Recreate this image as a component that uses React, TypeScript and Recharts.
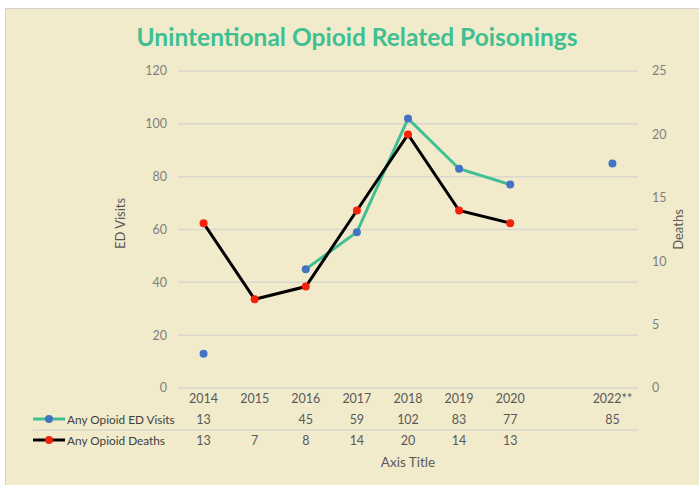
import React from 'react';
import { ComposedChart, Line, XAxis, YAxis, CartesianGrid } from 'recharts';

const categories = ['2014', '2015', '2016', '2017', '2018', '2019', '2020', '', '2022**'];
const edVisits: (number | null)[] = [13, null, 45, 59, 102, 83, 77, null, 85];
const deaths: (number | null)[] = [13, 7, 8, 14, 20, 14, 13, null, null];
const leftTicks = [0, 20, 40, 60, 80, 100, 120];
const rightTicks = [0, 5, 10, 15, 20, 25];
const seriesNames = ['Any Opioid ED Visits', 'Any Opioid Deaths'];

const data = categories.map((c, i) => ({ year: c, ed: edVisits[i], deaths: deaths[i] }));

const FONT = 'Lato, "Open Sans", sans-serif';
const GREEN = '#3FBF92';
const BLUE = '#4472C4';
const RED = '#F4220B';
const GRID = '#DAD7CE';
const TXT = '#595959';

const LegendKey = ({ x, y, line, dot }: any) => (
  <g>
    <line x1={x} x2={x + 32} y1={y} y2={y} stroke={line} strokeWidth={3} />
    <circle cx={x + 16} cy={y} r={4} fill={dot} />
  </g>
);

const TableTick = (props: any) => {
  const { x, y, payload, index } = props;
  const ed = edVisits[index];
  const de = deaths[index];
  return (
    <g fontFamily={FONT} fontSize={12.5} fill={TXT}>
      <text x={x} y={y + 10} textAnchor="middle" dominantBaseline="central" fill={TXT}>
        {payload.value}
      </text>
      {ed != null && (
        <text x={x} y={y + 31} textAnchor="middle" dominantBaseline="central" fill={TXT}>
          {ed}
        </text>
      )}
      {de != null && (
        <text x={x} y={y + 52} textAnchor="middle" dominantBaseline="central" fill={TXT}>
          {de}
        </text>
      )}
      {index === 0 && (
        <g>
          <line x1={33} x2={638} y1={y + 42} y2={y + 42} stroke={GRID} strokeWidth={1.5} />
          <LegendKey x={33} y={y + 31} line={GREEN} dot={BLUE} />
          <LegendKey x={33} y={y + 52} line="#000000" dot={RED} />
          <text x={67} y={y + 31} dominantBaseline="central" fill="#404040" fontSize={11.8}>{seriesNames[0]}</text>
          <text x={67} y={y + 52} dominantBaseline="central" fill="#404040" fontSize={11.8}>{seriesNames[1]}</text>
        </g>
      )}
    </g>
  );
};

const AxisTitleLabel = ({ viewBox }: any) => (
  <text
    x={viewBox.x + viewBox.width / 2}
    y={viewBox.y + 74}
    textAnchor="middle"
    dominantBaseline="central"
    fontFamily={FONT}
    fontSize={13.5}
    fill={TXT}
  >
    Axis Title
  </text>
);

const LeftLabel = ({ viewBox }: any) => {
  const cx = viewBox.x + viewBox.width / 2;
  const cy = viewBox.y + viewBox.height / 2 - 6;
  return (
    <text x={cx} y={cy} textAnchor="middle" dominantBaseline="central" transform={`rotate(-90 ${cx} ${cy})`}
      fontFamily={FONT} fontSize={13} fill={TXT}>
      ED Visits
    </text>
  );
};

const RightLabel = ({ viewBox }: any) => {
  const cx = viewBox.x + 40;
  const cy = viewBox.y + viewBox.height / 2;
  return (
    <text x={cx} y={cy} textAnchor="middle" dominantBaseline="central" transform={`rotate(-90 ${cx} ${cy})`}
      fontFamily={FONT} fontSize={13} fill={TXT}>
      Deaths
    </text>
  );
};

export default function App() {
  return (
    <div style={{ position: 'absolute', left: 0, top: 0, width: 699, height: 485, background: '#ffffff', overflow: 'hidden' }}>
      <div style={{ position: 'absolute', left: 5, top: 8, right: 0, bottom: 0, background: '#F1EBCC', borderLeft: '1px solid #D2D2D2', borderTop: '1px solid #D2D2D2' }} />
      <div style={{ position: 'absolute', left: 0, top: 21, width: 714, textAlign: 'center', fontFamily: FONT, fontWeight: 700, fontSize: 24.5, color: GREEN, lineHeight: '32px' }}>
        Unintentional Opioid Related Poisonings
      </div>
      <div style={{ position: 'absolute', left: 0, top: 0 }}>
        <ComposedChart width={699} height={485} data={data} margin={{ top: 71, right: 0, left: 62, bottom: 13 }}>
          <CartesianGrid yAxisId="left" vertical={false} stroke={GRID} strokeWidth={1.5} />
          <XAxis
            xAxisId="cat"
            dataKey="year"
            type="category"
            scale="band"
            interval={0}
            height={84}
            axisLine={false}
            tickLine={false}
            tickSize={0}
            tickMargin={0}
            tick={<TableTick />}
            label={<AxisTitleLabel />}
          />
          <YAxis
            yAxisId="left"
            orientation="left"
            width={116}
            domain={[0, 120]}
            ticks={leftTicks}
            axisLine={false}
            tickLine={false}
            tickMargin={5}
            tick={{ fill: '#7F7F7F', fontSize: 12.5, fontFamily: FONT }}
            label={<LeftLabel />}
          />
          <YAxis
            yAxisId="right"
            orientation="right"
            width={61}
            domain={[0, 25]}
            ticks={rightTicks}
            axisLine={false}
            tickLine={false}
            tickMargin={8}
            tick={{ fill: '#7F7F7F', fontSize: 12.5, fontFamily: FONT, textAnchor: 'start' }}
            label={<RightLabel />}
          />
          <Line
            xAxisId="cat"
            yAxisId="left"
            dataKey="ed"
            stroke={GREEN}
            strokeWidth={3}
            dot={{ r: 4, fill: BLUE, stroke: BLUE, strokeWidth: 0 }}
            activeDot={false}
            connectNulls={false}
            isAnimationActive={false}
          />
          <Line
            xAxisId="cat"
            yAxisId="right"
            dataKey="deaths"
            stroke="#000000"
            strokeWidth={3}
            dot={{ r: 4, fill: RED, stroke: RED, strokeWidth: 0 }}
            activeDot={false}
            connectNulls={false}
            isAnimationActive={false}
          />
        </ComposedChart>
      </div>
    </div>
  );
}
